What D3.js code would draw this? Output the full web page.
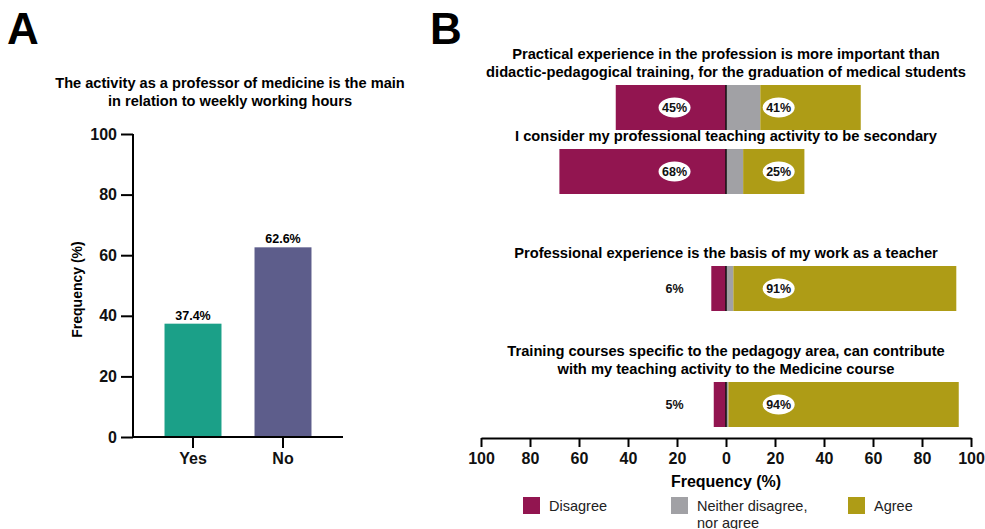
<!DOCTYPE html>
<html>
<head>
<meta charset="utf-8">
<script src="https://cdn.jsdelivr.net/npm/d3@7.9.0/dist/d3.min.js"></script>
<style>
  body { margin: 0; background: #fff; }
  svg { display: block; font-family: "Liberation Sans", Arial, sans-serif; }
</style>
</head>
<body>
<svg id="chart" width="985" height="529"></svg>
<script>
// --- Panel A data ---
const answersA = ['Yes', 'No'];
const valuesA = [37.4, 62.6];
const colorsA = ['#1ba088', '#5d5d8b'];
const titleA = ['The activity as a professor of medicine is the main', 'in relation to weekly working hours'];
const ticksA = [0, 20, 40, 60, 80, 100];

// --- Panel B data ---
const questions = [
  ['Practical experience in the profession is more important than', 'didactic-pedagogical training, for the graduation of medical students'],
  ['I consider my professional teaching activity to be secondary'],
  ['Professional experience is the basis of my work as a teacher'],
  ['Training courses specific to the pedagogy area, can contribute', 'with my teaching activity to the Medicine course']
];
const disagree = [45, 68, 6, 5];
const neutral = [14, 7, 3, 1];
const agree = [41, 25, 91, 94];
const legendLabels = [['Disagree'], ['Neither disagree,', 'nor agree'], ['Agree']];
const colorsB = ['#921550', '#a1a1a5', '#ae9c16'];
const ticksB = [-100, -80, -60, -40, -20, 0, 20, 40, 60, 80, 100];

const svg = d3.select('#chart');

// panel letters
svg.append('text').attr('x', 7).attr('y', 44).attr('font-size', 44).attr('font-weight', 'bold').text('A');
svg.append('text').attr('x', 430).attr('y', 44).attr('font-size', 44).attr('font-weight', 'bold').text('B');

// ---------------- Panel A ----------------
const gA = svg.append('g');

const y = d3.scaleLinear().domain([0, 100]).range([437, 134]);
const x = d3.scaleBand().domain(answersA).range([148, 328]).paddingInner(0.367).paddingOuter(0.1835);

gA.selectAll('.title').data(titleA).join('text')
  .attr('x', 230).attr('y', (d, i) => 88 + i * 18)
  .attr('text-anchor', 'middle').attr('font-size', 14.6).attr('font-weight', 'bold')
  .text(d => d);

const yAxis = gA.append('g').attr('transform', 'translate(133,0)')
  .call(d3.axisLeft(y).tickValues(ticksA).tickSize(12).tickPadding(4));
yAxis.select('.domain').attr('stroke-width', 2).attr('d', `M0,${y(100)}V${y(0)}`);
yAxis.selectAll('.tick line').attr('stroke-width', 2);
yAxis.selectAll('.tick text').attr('font-size', 16).attr('font-weight', 'bold').attr('font-family', null).attr('fill', '#111');

gA.append('text')
  .attr('transform', `translate(82,${(y(0) + y(100)) / 2 + 4}) rotate(-90)`)
  .attr('text-anchor', 'middle').attr('font-size', 14).attr('font-weight', 'bold')
  .text('Frequency (%)');

gA.selectAll('.bar').data(answersA).join('rect')
  .attr('x', d => x(d)).attr('width', x.bandwidth())
  .attr('y', (d, i) => y(valuesA[i])).attr('height', (d, i) => y(0) - y(valuesA[i]))
  .attr('fill', (d, i) => colorsA[i]);

gA.selectAll('.val').data(answersA).join('text')
  .attr('x', d => x(d) + x.bandwidth() / 2).attr('y', (d, i) => y(valuesA[i]) - 4)
  .attr('text-anchor', 'middle').attr('font-size', 12.5).attr('font-weight', 'bold')
  .text((d, i) => valuesA[i].toFixed(1) + '%');

const xAxisA = gA.append('g').attr('transform', `translate(0,${y(0)})`)
  .call(d3.axisBottom(x).tickSize(11).tickPadding(5).tickSizeOuter(0));
xAxisA.select('.domain').attr('stroke-width', 2).attr('d', 'M133,0H343');
xAxisA.selectAll('.tick line').attr('stroke-width', 2);
xAxisA.selectAll('.tick text').attr('font-size', 16).attr('font-weight', 'bold').attr('font-family', null).attr('fill', '#111');

// ---------------- Panel B ----------------
const gB = svg.append('g');
const xb = d3.scaleLinear().domain([-100, 100]).range([481, 971]);
const rowTop = d3.scaleOrdinal().domain(d3.range(questions.length)).range([85, 149, 266, 382]);
const barH = 45;

questions.forEach((lines, i) => {
  const top = rowTop(i);
  const row = gB.append('g');

  row.selectAll('text.q').data(lines).join('text')
    .attr('class', 'q')
    .attr('x', xb(0)).attr('y', (d, j) => top - 8 - (lines.length - 1 - j) * 18)
    .attr('text-anchor', 'middle').attr('font-size', 14.7).attr('font-weight', 'bold')
    .text(d => d);

  const segs = [
    { v0: -disagree[i], v1: 0, c: colorsB[0] },
    { v0: 0, v1: neutral[i], c: colorsB[1] },
    { v0: neutral[i], v1: neutral[i] + agree[i], c: colorsB[2] }
  ];
  row.selectAll('rect').data(segs).join('rect')
    .attr('x', d => xb(d.v0)).attr('width', d => xb(d.v1) - xb(d.v0))
    .attr('y', top).attr('height', barH)
    .attr('fill', d => d.c);

  row.append('line')
    .attr('x1', xb(0)).attr('x2', xb(0)).attr('y1', top).attr('y2', top + barH)
    .attr('stroke', '#111').attr('stroke-width', 1.5);

  const labels = [{ v: -21, t: disagree[i] + '%' }, { v: 21.5, t: agree[i] + '%' }];
  const lg = row.selectAll('g.lab').data(labels).join('g')
    .attr('class', 'lab')
    .attr('transform', d => `translate(${xb(d.v)},${top + barH / 2})`);
  lg.append('ellipse').attr('rx', 16).attr('ry', 10).attr('fill', '#fff');
  lg.append('text').attr('text-anchor', 'middle').attr('dy', '0.36em')
    .attr('font-size', 12.5).attr('font-weight', 'bold').attr('fill', '#111')
    .text(d => d.t);
});

const xAxisB = gB.append('g').attr('transform', 'translate(0,438)')
  .call(d3.axisBottom(xb).tickValues(ticksB).tickSize(9).tickPadding(6).tickSizeOuter(0)
    .tickFormat(d => Math.abs(d)));
xAxisB.select('.domain').attr('stroke-width', 2);
xAxisB.selectAll('.tick line').attr('stroke-width', 2);
xAxisB.selectAll('.tick text').attr('font-size', 16).attr('font-weight', 'bold').attr('font-family', null).attr('fill', '#111');

gB.append('text').attr('x', xb(0)).attr('y', 487)
  .attr('text-anchor', 'middle').attr('font-size', 16).attr('font-weight', 'bold')
  .text('Frequency (%)');

// legend
const legendX = [523, 671, 848];
const leg = gB.selectAll('g.leg').data(legendLabels).join('g')
  .attr('class', 'leg')
  .attr('transform', (d, i) => `translate(${legendX[i]},497)`);
leg.append('rect').attr('width', 17).attr('height', 17).attr('fill', (d, i) => colorsB[i]);
leg.each(function (lines) {
  d3.select(this).selectAll('text').data(lines).join('text')
    .attr('x', 26)
    .attr('y', (d, j) => 14 + j * 17)
    .attr('font-size', 14.5).attr('fill', '#222')
    .text(d => d);
});
</script>
</body>
</html>
